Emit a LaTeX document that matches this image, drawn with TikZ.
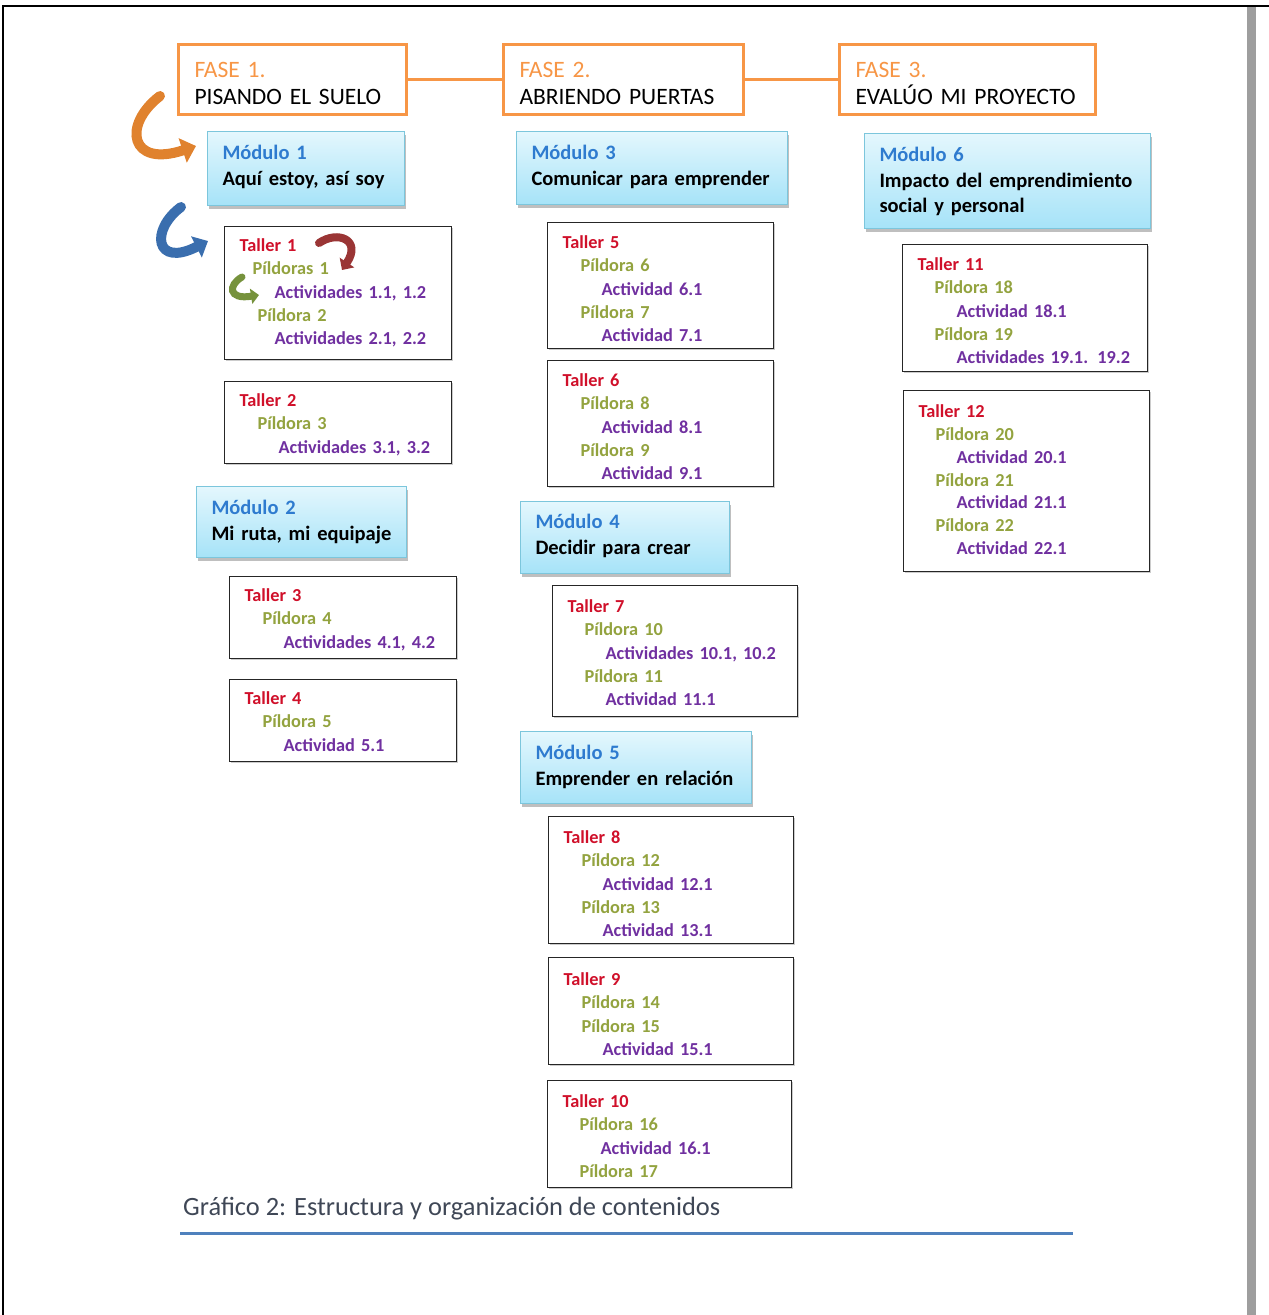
\documentclass[tikz,border=0pt]{standalone}
\usepackage{fontspec}
\setmainfont{Carlito}
\usetikzlibrary{arrows.meta,shadows}
\definecolor{faseorange}{HTML}{F79646}
\definecolor{modtop}{HTML}{E4F7FD}
\definecolor{modbot}{HTML}{A6E3F8}
\definecolor{modborder}{HTML}{7CC6DC}
\definecolor{modblue}{HTML}{2E7BCF}
\definecolor{tallerred}{HTML}{D0102A}
\definecolor{pilolive}{HTML}{93A33F}
\definecolor{actpurple}{HTML}{7030A0}
\definecolor{captiongrey}{HTML}{3F4756}
\definecolor{rulblue}{HTML}{4F81BD}
\definecolor{arrorange}{HTML}{E0822E}
\definecolor{arrblue}{HTML}{3A6EAE}
\definecolor{arrred}{HTML}{9A3535}
\definecolor{arrgreen}{HTML}{76923C}
\newcommand{\Ln}[1]{\mbox{#1}}
\newcommand{\Tal}[1]{\mbox{\textcolor{tallerred}{#1}}}
\newcommand{\Pil}[2][18pt]{\mbox{\hspace*{#1}\textcolor{pilolive}{#2}}}
\newcommand{\Act}[2][39pt]{\mbox{\hspace*{#1}\textcolor{actpurple}{#2}}}
\newcommand{\Mod}[1]{\mbox{\textcolor{modblue}{#1}}}
\begin{document}
\begin{tikzpicture}[x=1pt,y=-1pt,
  fase/.style={draw=faseorange, line width=3pt, fill=white, align=left, anchor=north west,
    inner xsep=16pt, inner ysep=0pt, font=\fontsize{23.5}{27}\selectfont, text=black,
    minimum height=70pt, text height=32.5pt, text depth=37.5pt},
  modulo/.style={draw=modborder, line width=1pt, top color=modtop, bottom color=modbot,
    align=left, anchor=north west, inner xsep=15pt, inner ysep=0pt,
    font=\fontsize{20.5}{26}\bfseries\selectfont, text height=28pt,
    drop shadow={shadow xshift=1pt, shadow yshift=-3pt, fill=black, opacity=0.25}},
  taller/.style={draw=black!85, line width=1.3pt, fill=white, align=left, anchor=north west,
    inner xsep=15pt, inner ysep=0pt, font=\fontsize{18.3}{23.2}\bfseries\selectfont,
    drop shadow={shadow xshift=1.5pt, shadow yshift=-1.5pt, fill=black!40}},
  curarrow/.style={line width=10pt, line cap=round},
  link/.style={draw=faseorange, line width=3pt}
]
\useasboundingbox (0,0) rectangle (1269,1315);
% page frame
\fill[black!38] (1247,7) rectangle (1256,1315);
\draw[line width=2.2pt] (3,1315) -- (3,6) -- (1269,6);

% phases
\node[fase, text width=196pt] (f1) at (177,43)
  {\textcolor{faseorange}{FASE 1.}\\\Ln{PISANDO EL SUELO}};
\node[fase, text width=208pt] (f2) at (502,43)
  {\textcolor{faseorange}{FASE 2.}\\\Ln{ABRIENDO PUERTAS}};
\node[fase, text width=224pt] (f3) at (838,43)
  {\textcolor{faseorange}{FASE 3.}\\\Ln{EVALÚO MI PROYECTO}};
\draw[link] (f1.east) -- (f2.west);
\draw[link] (f2.east) -- (f3.west);

% column 1
\node[modulo, text width=167pt, minimum height=74pt, text depth=46pt] (m1) at (207,131)
  {\Mod{Módulo 1}\\\Ln{Aquí estoy, así soy}};
\node[taller, text width=197pt, minimum height=133pt, text height=25pt, text depth=108pt] (t1) at (224,226)
  {\Tal{Taller 1}\\\Pil[13pt]{Píldoras 1}\\\Act[35pt]{Actividades 1.1, 1.2}\\\Pil{Píldora 2}\\\Act[35pt]{Actividades 2.1, 2.2}};
\node[taller, text width=197pt, minimum height=82pt, text height=25pt, text depth=57pt] (t2) at (224,381)
  {\Tal{Taller 2}\\\Pil{Píldora 3}\\\Act{Actividades 3.1, 3.2}};
\node[modulo, text width=180pt, minimum height=71pt, text depth=43pt] (m2) at (196,486)
  {\Mod{Módulo 2}\\\Ln{Mi ruta, mi equipaje}};
\node[taller, text width=197pt, minimum height=82pt, text height=25pt, text depth=57pt] (t3) at (229,576)
  {\Tal{Taller 3}\\\Pil{Píldora 4}\\\Act{Actividades 4.1, 4.2}};
\node[taller, text width=197pt, minimum height=82pt, text height=25pt, text depth=57pt] (t4) at (229,679)
  {\Tal{Taller 4}\\\Pil{Píldora 5}\\\Act{Actividad 5.1}};

% column 2
\node[modulo, text width=241pt, minimum height=73pt, text depth=45pt] (m3) at (516,131)
  {\Mod{Módulo 3}\\\Ln{Comunicar para emprender}};
\node[taller, text width=196pt, minimum height=126pt, text height=26pt, text depth=100pt] (t5) at (547,222)
  {\Tal{Taller 5}\\\Pil{Píldora 6}\\\Act{Actividad 6.1}\\\Pil{Píldora 7}\\\Act{Actividad 7.1}};
\node[taller, text width=196pt, minimum height=126pt, text height=26pt, text depth=100pt] (t6) at (547,360)
  {\Tal{Taller 6}\\\Pil{Píldora 8}\\\Act{Actividad 8.1}\\\Pil{Píldora 9}\\\Act{Actividad 9.1}};
\node[modulo, text width=179pt, minimum height=72pt, text height=27pt, text depth=45pt] (m4) at (520,501)
  {\Mod{Módulo 4}\\\Ln{Decidir para crear}};
\node[taller, text width=215pt, minimum height=131pt, text height=27pt, text depth=104pt] (t7) at (552,585)
  {\Tal{Taller 7}\\\Pil[17pt]{Píldora 10}\\\Act[38pt]{Actividades 10.1, 10.2}\\\Pil[17pt]{Píldora 11}\\\Act[38pt]{Actividad 11.1}};
\node[modulo, text width=201pt, minimum height=72pt, text depth=44pt] (m5) at (520,731)
  {\Mod{Módulo 5}\\\Ln{Emprender en relación}};
\node[taller, text width=215pt, minimum height=127pt, text height=27pt, text depth=100pt] (t8) at (548,816)
  {\Tal{Taller 8}\\\Pil{Píldora 12}\\\Act{Actividad 12.1}\\\Pil{Píldora 13}\\\Act{Actividad 13.1}};
\node[taller, text width=215pt, minimum height=107pt, text height=28pt, text depth=79pt] (t9) at (548,957)
  {\Tal{Taller 9}\\\Pil{Píldora 14}\\\Pil{Píldora 15}\\\Act{Actividad 15.1}};
\node[taller, text width=214pt, minimum height=107pt, text height=27pt, text depth=80pt] (t10) at (547,1080)
  {\Tal{Taller 10}\\\Pil[17pt]{Píldora 16}\\\Act[38pt]{Actividad 16.1}\\\Pil[17pt]{Píldora 17}};

% column 3
\node[modulo, text width=256pt, minimum height=95pt, text depth=67pt, font=\fontsize{20.5}{25.5}\bfseries\selectfont] (m6) at (864,133)
  {\Mod{Módulo 6}\\\Ln{Impacto del emprendimiento}\\\Ln{social y personal}};
\node[taller, text width=215pt, minimum height=127pt, text height=26pt, text depth=101pt] (t11) at (902,244)
  {\Tal{Taller 11}\\\Pil[17pt]{Píldora 18}\\\Act{Actividad 18.1}\\\Pil[17pt]{Píldora 19}\\\Act{Actividades 19.1. 19.2}};
\node[taller, text width=216pt, minimum height=181pt, text height=27pt, text depth=154pt, font=\fontsize{18.3}{22.8}\bfseries\selectfont] (t12) at (903,390)
  {\Tal{Taller 12}\\\Pil[17pt]{Píldora 20}\\\Act[38pt]{Actividad 20.1}\\\Pil[17pt]{Píldora 21}\\\Act[38pt]{Actividad 21.1}\\\Pil[17pt]{Píldora 22}\\\Act[38pt]{Actividad 22.1}};

% curved arrows
\coordinate (oa1) at (160,96);
\coordinate (oa2) at (196,146);
\draw[curarrow, arrorange, -{Triangle[length=14pt,width=25pt]}]
  (oa1) .. controls (122,125) and (130,168) .. (oa2);
\coordinate (ba1) at (181,207);
\coordinate (ba2) at (208,241);
\draw[curarrow, arrblue, -{Triangle[length=13pt,width=23pt]}]
  (ba1) .. controls (150,230) and (155,268) .. (ba2);
\coordinate (ra1) at (319,243);
\coordinate (ra2) at (342,270);
\draw[curarrow, arrred, line width=8pt, -{Triangle[length=9pt,width=17pt]}]
  (ra1) .. controls (338,230) and (362,240) .. (ra2);
\coordinate (ga1) at (242,277);
\coordinate (ga2) at (259,295);
\draw[curarrow, arrgreen, line width=7pt, -{Triangle[length=8pt,width=15pt]}]
  (ga1) .. controls (228,285) and (228,300) .. (ga2);

% caption
\node[anchor=west, inner sep=0pt, text=captiongrey, font=\fontsize{26.4}{30}\selectfont] (cap) at (183,1209)
  {Gráfico 2: Estructura y organización de contenidos};
\draw[rulblue, line width=3pt] (180,1233) -- (1073,1233);
\end{tikzpicture}
\end{document}
